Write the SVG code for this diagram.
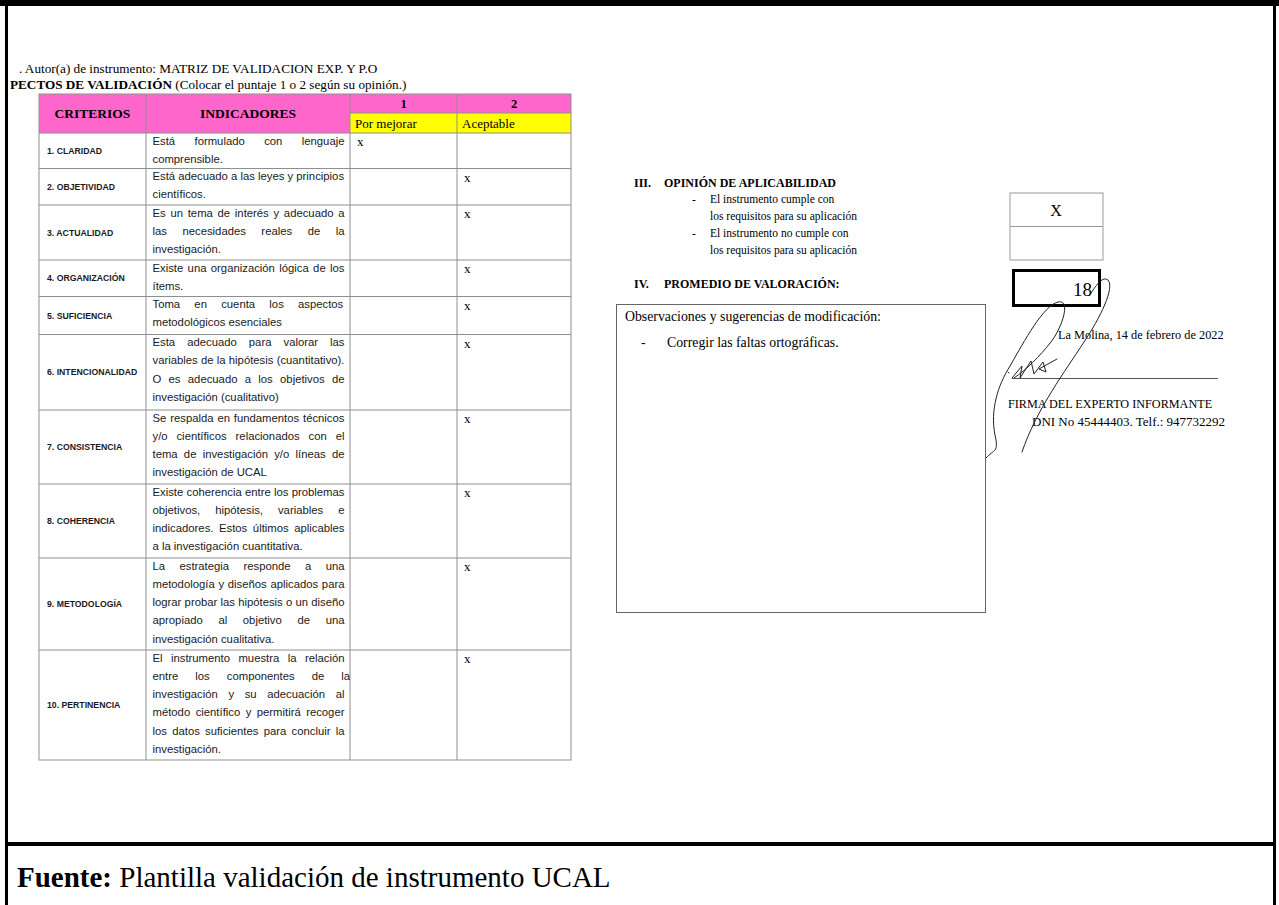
<svg xmlns="http://www.w3.org/2000/svg" width="1279" height="905" viewBox="0 0 1279 905">
<style>
.tnr{font-family:"Liberation Serif","Times New Roman",serif;fill:#000}
.ind{font-family:"Liberation Sans",Arial,sans-serif;font-size:11.3px;fill:#1a1a1a}
.crit{font-family:"Liberation Sans",Arial,sans-serif;font-size:8.7px;font-weight:bold;fill:#1a1a1a}
.grid{stroke:#8f8f8f;stroke-width:1;fill:none}
.xm{font-family:"Liberation Serif","Times New Roman",serif;font-size:13px;fill:#000}
.op{font-family:"Liberation Serif","Times New Roman",serif;font-size:11.5px;fill:#000}
.oph{font-family:"Liberation Serif","Times New Roman",serif;font-size:12px;font-weight:bold;fill:#000}
.sig{fill:none;stroke:#222;stroke-width:1;stroke-linecap:round;stroke-linejoin:round}
</style>
<rect width="1279" height="905" fill="#fff"/>
<g id="frame">
<rect x="0" y="0" width="1279" height="6" fill="#000"/>
<rect x="5" y="0" width="3" height="905" fill="#000"/>
<rect x="1273" y="0" width="3" height="905" fill="#000"/>
<rect x="5" y="842" width="1271" height="4" fill="#000"/>
</g>
<g id="title">
<text class="tnr" x="19" y="73" font-size="13.2">. Autor(a) de instrumento: MATRIZ DE VALIDACION EXP. Y P.O</text>
<text class="tnr" x="10" y="88.5" font-size="13.2"><tspan font-weight="bold">PECTOS DE VALIDACIÓN</tspan> (Colocar el puntaje 1 o 2 según su opinión.)</text>
</g>
<g id="table">
<rect x="39" y="94" width="311" height="39" fill="#ff66cc"/>
<rect x="350" y="94" width="221" height="19" fill="#ff66cc"/>
<rect x="350" y="113" width="221" height="20" fill="#ffff00"/>
<g class="grid">
<rect x="39" y="94" width="532" height="666"/>
<path d="M146 94V760M350 94V760M457 94V760M350 113H571M39 133H571M39 168.5H571M39 205H571M39 260H571M39 296.5H571M39 334.5H571M39 410H571M39 484H571M39 558H571M39 650H571"/>
</g>
<text class="tnr" x="92.5" y="118" font-size="13.5" font-weight="bold" text-anchor="middle">CRITERIOS</text>
<text class="tnr" x="248" y="118" font-size="13.5" font-weight="bold" text-anchor="middle">INDICADORES</text>
<text class="tnr" x="403.5" y="108" font-size="12.5" font-weight="bold" text-anchor="middle">1</text>
<text class="tnr" x="514" y="108" font-size="12.5" font-weight="bold" text-anchor="middle">2</text>
<text class="tnr" x="355" y="127.5" font-size="13">Por mejorar</text>
<text class="tnr" x="462" y="127.5" font-size="13">Aceptable</text>

<g id="row1">
<text class="crit" x="47" y="153.9">1. CLARIDAD</text>
<text class="ind" x="152.5" y="144.5" word-spacing="16.26">Está formulado con lenguaje</text>
<text class="ind" x="152.5" y="162.8">comprensible.</text>
<text class="xm" x="357" y="146">x</text>
</g>
<g id="row2">
<text class="crit" x="47" y="189.9">2. OBJETIVIDAD</text>
<text class="ind" x="152.5" y="180">Está adecuado a las leyes y principios</text>
<text class="ind" x="152.5" y="198.3">científicos.</text>
<text class="xm" x="464" y="181.5">x</text>
</g>
<g id="row3">
<text class="crit" x="47" y="235.6">3. ACTUALIDAD</text>
<text class="ind" x="152.5" y="216.5" word-spacing="1.59">Es un tema de interés y adecuado a</text>
<text class="ind" x="152.5" y="234.8" word-spacing="12.36">las necesidades reales de la</text>
<text class="ind" x="152.5" y="253.1">investigación.</text>
<text class="xm" x="464" y="218">x</text>
</g>
<g id="row4">
<text class="crit" x="47" y="281.4">4. ORGANIZACIÓN</text>
<text class="ind" x="152.5" y="271.5" word-spacing="1.22">Existe una organización lógica de los</text>
<text class="ind" x="152.5" y="289.8">ítems.</text>
<text class="xm" x="464" y="273">x</text>
</g>
<g id="row5">
<text class="crit" x="47" y="318.6">5. SUFICIENCIA</text>
<text class="ind" x="152.5" y="308" word-spacing="11.11">Toma en cuenta los aspectos</text>
<text class="ind" x="152.5" y="326.3">metodológicos esenciales</text>
<text class="xm" x="464" y="309.5">x</text>
</g>
<g id="row6">
<text class="crit" x="47" y="375.4">6. INTENCIONALIDAD</text>
<text class="ind" x="152.5" y="346" word-spacing="8.91">Esta adecuado para valorar las</text>
<text class="ind" x="152.5" y="364.3" word-spacing="0.11">variables de la hipótesis (cuantitativo).</text>
<text class="ind" x="152.5" y="382.6" word-spacing="4.16">O es adecuado a los objetivos de</text>
<text class="ind" x="152.5" y="400.9">investigación (cualitativo)</text>
<text class="xm" x="464" y="347.5">x</text>
</g>
<g id="row7">
<text class="crit" x="47" y="450.1">7. CONSISTENCIA</text>
<text class="ind" x="152.5" y="421.5" word-spacing="0.73">Se respalda en fundamentos técnicos</text>
<text class="ind" x="152.5" y="439.8" word-spacing="5.76">y/o científicos relacionados con el</text>
<text class="ind" x="152.5" y="458.1" word-spacing="3.1">tema de investigación y/o líneas de</text>
<text class="ind" x="152.5" y="476.4">investigación de UCAL</text>
<text class="xm" x="464" y="423">x</text>
</g>
<g id="row8">
<text class="crit" x="47" y="524.1">8. COHERENCIA</text>
<text class="ind" x="152.5" y="495.5" word-spacing="0.11">Existe coherencia entre los problemas</text>
<text class="ind" x="152.5" y="513.8" word-spacing="11.86">objetivos, hipótesis, variables e</text>
<text class="ind" x="152.5" y="532.1" word-spacing="2.46">indicadores. Estos últimos aplicables</text>
<text class="ind" x="152.5" y="550.4">a la investigación cuantitativa.</text>
<text class="xm" x="464" y="497">x</text>
</g>
<g id="row9">
<text class="crit" x="47" y="607.1">9. METODOLOGÍA</text>
<text class="ind" x="152.5" y="569.5" word-spacing="11.26">La estrategia responde a una</text>
<text class="ind" x="152.5" y="587.8" word-spacing="0.58">metodología y diseños aplicados para</text>
<text class="ind" x="152.5" y="606.1" word-spacing="0.08">lograr probar las hipótesis o un diseño</text>
<text class="ind" x="152.5" y="624.4" word-spacing="12.51">apropiado al objetivo de una</text>
<text class="ind" x="152.5" y="642.7">investigación cualitativa.</text>
<text class="xm" x="464" y="571">x</text>
</g>
<g id="row10">
<text class="crit" x="47" y="708.1">10. PERTINENCIA</text>
<text class="ind" x="152.5" y="661.5" word-spacing="5.31">El instrumento muestra la relación</text>
<text class="ind" x="152.5" y="679.8" word-spacing="13.93">entre los componentes de la</text>
<text class="ind" x="152.5" y="698.1" word-spacing="7.49">investigación y su adecuación al</text>
<text class="ind" x="152.5" y="716.4" word-spacing="2.31">método científico y permitirá recoger</text>
<text class="ind" x="152.5" y="734.7" word-spacing="2.1">los datos suficientes para concluir la</text>
<text class="ind" x="152.5" y="753">investigación.</text>
<text class="xm" x="464" y="663">x</text>
</g>
</g>

<g id="opinion">
<text class="oph" x="634" y="187">III.</text>
<text class="oph" x="664" y="187">OPINIÓN DE APLICABILIDAD</text>
<text class="op" x="692" y="203">-</text>
<text class="op" x="710" y="203">El instrumento cumple con</text>
<text class="op" x="710" y="220">los requisitos para su aplicación</text>
<text class="op" x="692" y="237">-</text>
<text class="op" x="710" y="237">El instrumento no cumple con</text>
<text class="op" x="710" y="254">los requisitos para su aplicación</text>
<rect x="1010" y="193" width="93" height="67" fill="none" stroke="#9a9a9a" stroke-width="1"/>
<line x1="1010" y1="226.5" x2="1103" y2="226.5" stroke="#9a9a9a" stroke-width="1"/>
<text class="tnr" x="1056" y="216" font-size="16" text-anchor="middle">X</text>
</g>
<g id="promedio">
<text class="oph" x="634" y="288">IV.</text>
<text class="oph" x="664" y="288">PROMEDIO DE VALORACIÓN:</text>
<rect x="1013.5" y="270.5" width="86" height="35" fill="none" stroke="#000" stroke-width="3"/>
<text class="tnr" x="1092" y="296" font-size="19" text-anchor="end">18</text>
</g>
<g id="observaciones">
<rect x="616.5" y="304.5" width="369" height="308" fill="none" stroke="#666" stroke-width="1"/>
<text class="tnr" x="625" y="321" font-size="13.8">Observaciones y sugerencias de modificación:</text>
<text class="tnr" x="641" y="347" font-size="13.8">-</text>
<text class="tnr" x="667" y="347" font-size="13.8">Corregir las faltas ortográficas.</text>
</g>
<g id="firma">
<text class="tnr" x="1058" y="339" font-size="12.3">La Molina, 14 de febrero  de 2022</text>
<line x1="1012" y1="378.5" x2="1218" y2="378.5" stroke="#555" stroke-width="1"/>
<text class="tnr" x="1008" y="408" font-size="12.2">FIRMA DEL EXPERTO INFORMANTE</text>
<text class="tnr" x="1032" y="426" font-size="13">DNI No 45444403. Telf.: 947732292</text>
<path class="sig" d="M986,458 C994,449 999,453 995,435 C990,410 998,385 1010,366 C1025,340 1043,306 1058,302 C1071,299 1063,326 1051,342 C1040,356 1026,370 1014,378"/>
<path class="sig" d="M1091,293 C1097,284 1103,276 1108,280 C1115,288 1100,318 1084,342 C1066,370 1036,410 1022,452"/>
<path class="sig" d="M1008,372 L1009,373 M1012,378 L1022,366 L1020,378 L1031,361 L1034,374 L1043,362 L1046,372 L1039,369 L1057,359"/>
</g>
<g id="fuente">
<text class="tnr" x="17" y="887" font-size="29"><tspan font-weight="bold">Fuente:</tspan> Plantilla validación de instrumento UCAL</text>
</g>
</svg>
